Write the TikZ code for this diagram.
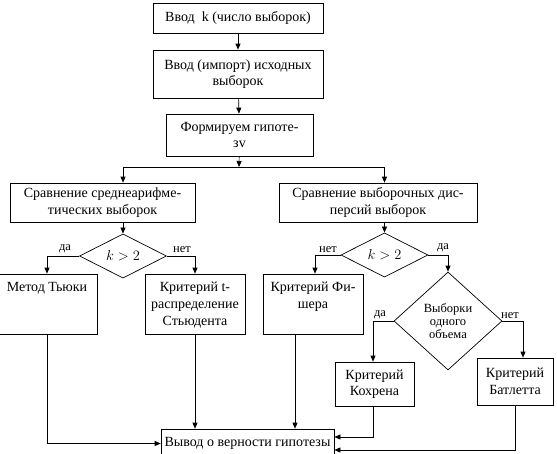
\documentclass[tikz,border=0pt]{standalone}
\usepackage{fontspec}
\setmainfont{Liberation Serif}
\usetikzlibrary{arrows.meta, shapes.geometric}

\begin{document}
\begin{tikzpicture}[
  x=1pt, y=-1pt,
  blok/.style={rectangle, draw=black, line width=0.7pt, align=center, inner sep=0pt, font=\fontsize{14}{16.5}\selectfont},
  usl/.style={diamond, draw=black, line width=0.7pt, inner sep=0pt, font=\fontsize{14}{16}\selectfont},
  tekst/.style={anchor=north, align=center, inner sep=0pt, yshift=-8pt, font=\fontsize{14}{17}\selectfont},
  otv/.style={anchor=south, inner sep=1pt, font=\fontsize{12.5}{13}\selectfont},
  arr/.style={-{Triangle[length=6pt, width=5pt]}, line width=0.7pt},
  lin/.style={line width=0.7pt}
]
  \useasboundingbox (0,0) rectangle (557,453);

  % upper chain
  \node[blok, minimum width=170, minimum height=30] (vvodk) at (238,18) {Ввод~ k (число выборок)};
  \node[blok, minimum width=170, minimum height=48] (vvodvyb) at (238,74) {Ввод (импорт) исходных\\выборок};
  \node[blok, minimum width=147, minimum height=42] (gipot) at (239.5,135) {Формируем гипоте-\\зv};
  \coordinate (razv) at (239,167);
  \coordinate (razvL) at (123,167);
  \coordinate (razvR) at (384.5,167);

  \node[blok, minimum width=185, minimum height=39] (sravsr) at (102.5,202.5) {Сравнение среднеарифме-\\тических выборок};
  \node[blok, minimum width=198, minimum height=39] (sravdisp) at (378,202.5) {Сравнение выборочных дис-\\персий выборок};

  \node[usl, minimum width=87, minimum height=34] (uslL) at (123,256) {$k > 2$};
  \node[usl, minimum width=87, minimum height=34] (uslR) at (384.5,255) {$k > 2$};
  \node[usl, minimum width=108, minimum height=98, align=center, font=\fontsize{12.5}{13}\selectfont] (objem) at (448,321) {Выборки\\одного\\объема};

  % tall boxes, text on top
  \node[blok, minimum width=100, minimum height=60] (tjuki) at (47,304) {};
  \node[tekst] (tjukit) at (tjuki.north) {Метод Тьюки};
  \node[blok, minimum width=100, minimum height=60] (student) at (195,304) {};
  \node[tekst] (studentt) at (student.north) {Критерий t-\\распределение\\Стьюдента};
  \node[blok, minimum width=100, minimum height=60] (fisher) at (313,304) {};
  \node[tekst] (fishert) at (fisher.north) {Критерий Фи-\\шера};

  \node[blok, minimum width=79, minimum height=44] (kohren) at (374.5,384) {Критерий\\Кохрена};
  \node[blok, minimum width=76, minimum height=47] (batlett) at (515,381.5) {Критерий\\Батлетта};

  \node[blok, minimum width=173, minimum height=29] (vyvod) at (247.5,443.5) {Вывод о верности гипотезы};

  \draw[arr] (vvodk) -- (vvodvyb);
  \draw[arr] (vvodvyb) -- (gipot);
  \draw[arr] (gipot) -- (razv);
  \draw[lin] (razvL) -- (razvR);
  \draw[arr] (razvL) -- (razvL |- sravsr.north);
  \draw[arr] (razvR) -- (razvR |- sravdisp.north);
  \draw[arr] (uslL |- sravsr.south) -- (uslL.north);
  \draw[arr] (uslR |- sravdisp.south) -- (uslR.north);

  % branches
  \draw[arr] (uslL.west) -| (tjuki.north);
  \draw[arr] (uslL.east) -| (student.north);
  \draw[arr] (uslR.west) -| ([xshift=2pt]fisher.north);
  \draw[arr] (uslR.east) -| (objem.north);
  \draw[arr] (objem.west) -| ([xshift=-1.5pt]kohren.north);
  \draw[arr] (objem.east) -| ([xshift=8pt]batlett.north);

  \node[otv] (daL) at (65,254) {да};
  \node[otv] (netL) at (182,254) {нет};
  \node[otv] (netR) at (328,254) {нет};
  \node[otv] (daR) at (443,253) {да};
  \node[otv] (daO) at (380,320) {да};
  \node[otv] (netO) at (510,320) {нет};

  % into conclusion
  \draw[arr] (tjuki.south) |- (vyvod.west);
  \draw[arr] (student.south) -- (student.south |- vyvod.north);
  \draw[arr] ([xshift=-18pt]fisher.south) -- ([xshift=-18pt]fisher.south |- vyvod.north);
  \draw[arr] ([xshift=-1.5pt]kohren.south) |- ([yshift=6.5pt]vyvod.east);
  \draw[arr] (batlett.south) |- ([yshift=-6.5pt]vyvod.east);
\end{tikzpicture}
\end{document}
